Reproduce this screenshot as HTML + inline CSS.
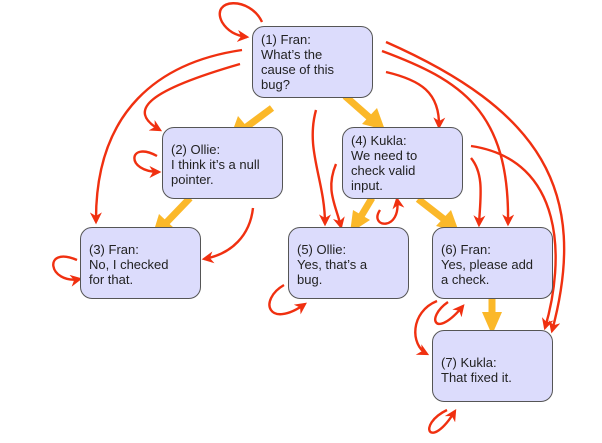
<!DOCTYPE html>
<html><head><meta charset="utf-8"><style>
body{margin:0;background:#fff;}
.b{position:absolute;width:121px;height:72px;background:#dcdcfc;border:1.3px solid #555;border-radius:12px;box-sizing:border-box;padding:5px 0 0 8px;font:13px/15px "Liberation Sans",sans-serif;color:#222;}
</style></head><body>
<div style="position:relative;width:602px;height:443px;overflow:hidden">
<svg width="602" height="443" style="position:absolute;left:0;top:0">
<defs>
<marker id="r" viewBox="0 0 10 10" refX="8" refY="5" markerWidth="5" markerHeight="5" orient="auto"><path d="M0,0 L10,5 L0,10 L3,5z" fill="#f03010"/></marker>
</defs>
<g fill="none" stroke="#f03010" stroke-width="2.4" marker-end="url(#r)">
<path d="M262,22 C250,-4 210,-2 222,22 C228,32 238,36 247,37"/>
<path d="M242,50 C160,62 95,110 96,222"/>
<path d="M240,64 C150,90 125,110 160,130"/>
<path d="M157,156 C128,140 125,172 159,172"/>
<path d="M253,208 C250,235 232,254 204,259"/>
<path d="M316,110 C305,150 325,180 325,224"/>
<path d="M336,164 C325,190 336,205 341,227"/>
<path d="M380,210 C368,228 402,232 397,199"/>
<path d="M386,72 C420,80 440,92 439,127"/>
<path d="M471,158 C485,175 480,200 479,225"/>
<path d="M382,51 C460,80 510,110 508,224"/>
<path d="M386,42 C540,110 590,190 552,331"/>
<path d="M471,146 C565,160 565,260 545,328"/>
<path d="M437,301 C410,312 410,345 427,354"/>
<path d="M448,302 C425,318 435,340 463,306"/>
<path d="M77,260 C42,245 48,285 80,279"/>
<path d="M284,285 C258,300 268,330 305,304"/>
<path d="M447,410 C416,425 430,452 455,411"/>
</g>
<g fill="#fbb829" stroke="#fbb829" stroke-width="7">
<line x1="272" y1="108" x2="245" y2="128"/><polygon points="230,138 238,116 253,134" stroke="none"/>
<line x1="345" y1="96" x2="370" y2="118"/><polygon points="385,130 377,108 362,124" stroke="none"/>
<line x1="190" y1="198" x2="165" y2="224"/><polygon points="152,237 159,214 175,229" stroke="none"/>
<line x1="372" y1="198" x2="360" y2="218"/><polygon points="350,233 353,210 370,220" stroke="none"/>
<line x1="418" y1="199" x2="445" y2="220"/><polygon points="459,232 451,210 436,226" stroke="none"/>
<line x1="492" y1="287" x2="492" y2="315"/><polygon points="492,335 482,312 502,312" stroke="none"/>
</g>
</svg>
<div class="b" style="left:252px;top:26px">(1) Fran:<br>What’s the<br>cause of this<br>bug?</div>
<div class="b" style="left:162px;top:127px;padding-top:14px">(2) Ollie:<br>I think it’s a null<br>pointer.</div>
<div class="b" style="left:342px;top:127px">(4) Kukla:<br>We need to<br>check valid<br>input.</div>
<div class="b" style="left:80px;top:227px;padding-top:14px">(3) Fran:<br>No, I checked<br>for that.</div>
<div class="b" style="left:288px;top:227px;padding-top:14px">(5) Ollie:<br>Yes, that’s a<br>bug.</div>
<div class="b" style="left:432px;top:227px;padding-top:14px">(6) Fran:<br>Yes, please add<br>a check.</div>
<div class="b" style="left:432px;top:330px;padding-top:24px">(7) Kukla:<br>That fixed it.</div>
</div>
</body></html>
